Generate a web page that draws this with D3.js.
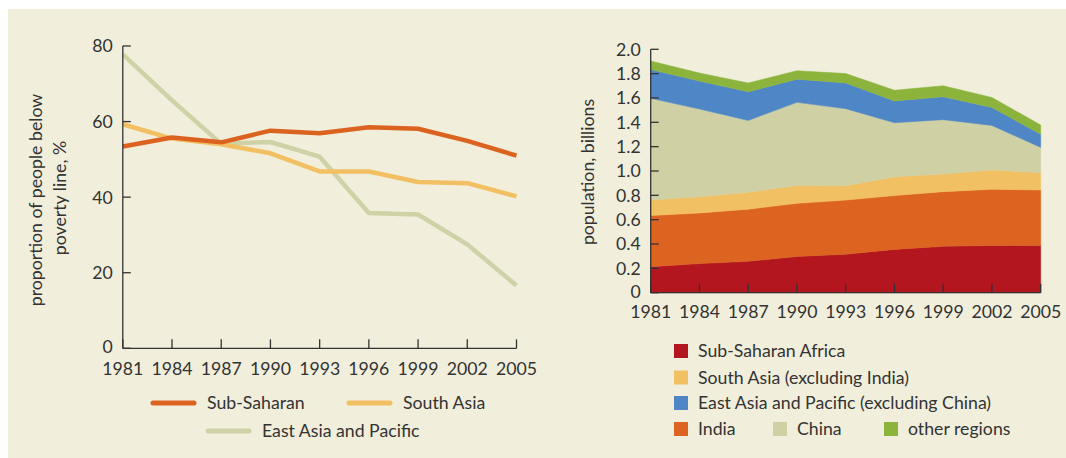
<!DOCTYPE html>
<html><head><meta charset="utf-8">
<script src="https://cdn.jsdelivr.net/npm/d3@7"></script>
<style>
body{margin:0;background:#fff;}
svg text{font-family:"Lato","Open Sans",sans-serif;fill:#333;}
</style></head>
<body>
<svg id="c" width="1066" height="458"></svg>
<script>
const years = [1981,1984,1987,1990,1993,1996,1999,2002,2005];
// left chart: % below poverty line
const subSaharanPct = [53.4,55.8,54.5,57.6,56.9,58.5,58.1,54.9,51.0];
const southAsiaPct  = [59.3,55.5,54.0,51.6,46.8,46.8,44.0,43.7,40.2];
const eastAsiaPct   = [77.8,65.6,54.1,54.6,50.7,35.8,35.4,27.5,16.6];
const leftYTicks = [0,20,40,60,80];
// right chart: population, billions
const ssaPop   = [0.214,0.239,0.258,0.297,0.316,0.356,0.381,0.388,0.387];
const indiaPop = [0.420,0.416,0.428,0.437,0.445,0.442,0.449,0.462,0.457];
const saxPop   = [0.128,0.134,0.139,0.147,0.118,0.155,0.145,0.158,0.142];
const chinaPop = [0.835,0.720,0.590,0.683,0.633,0.443,0.447,0.366,0.208];
const eapxPop  = [0.236,0.230,0.236,0.190,0.212,0.180,0.188,0.148,0.108];
const otherPop = [0.071,0.066,0.072,0.070,0.077,0.088,0.090,0.082,0.076];
const rightYTicks = [0,0.2,0.4,0.6,0.8,1.0,1.2,1.4,1.6,1.8,2.0];

const FS = 17.7;
const svg = d3.select("#c");
svg.append("rect").attr("x",8).attr("y",9).attr("width",1058).attr("height",449).attr("fill","#f1eedc");
const axisColor = "#333";

// ---------- LEFT ----------
const xL = d3.scaleLinear().domain([1981,2005]).range([122.8,516.5]);
const yL = d3.scaleLinear().domain([0,80]).range([348.3,46]);
const gL = svg.append("g");
const lineL = d3.line().x((d,i)=>xL(years[i])).y(d=>yL(d));
const leftSeries = [
  {name:"East Asia and Pacific", vals:eastAsiaPct, color:"#cfd2a6"},
  {name:"South Asia", vals:southAsiaPct, color:"#f2c062"},
  {name:"Sub-Saharan", vals:subSaharanPct, color:"#dc6220"}
];
leftSeries.forEach(s=>{
  gL.append("path").attr("d",lineL(s.vals)).attr("fill","none")
    .attr("stroke",s.color).attr("stroke-width",4.5).attr("stroke-linejoin","round");
});
function drawAxes(g, x, y, yTicks, yFmt, xLabelY){
  const x0 = x.range()[0], x1 = x.range()[1], y0 = y.range()[0], y1 = y.range()[1];
  g.append("line").attr("x1",x0).attr("x2",x0).attr("y1",y1).attr("y2",y0).attr("stroke",axisColor).attr("stroke-width",1.3);
  g.append("line").attr("x1",x0).attr("x2",x1).attr("y1",y0).attr("y2",y0).attr("stroke",axisColor).attr("stroke-width",1.3);
  yTicks.forEach(t=>{
    g.append("line").attr("x1",x0).attr("x2",x0+8).attr("y1",y(t)).attr("y2",y(t)).attr("stroke",axisColor).attr("stroke-width",1.3);
    g.append("text").attr("x",x0-10).attr("y",y(t)).attr("dy", t===0 ? "0.28em" : "0.36em").attr("text-anchor","end")
      .attr("font-size",FS).text(yFmt(t));
  });
  years.forEach(t=>{
    g.append("line").attr("x1",x(t)).attr("x2",x(t)).attr("y1",y0).attr("y2",y0-9).attr("stroke",axisColor).attr("stroke-width",1.3);
    g.append("text").attr("x",x(t)).attr("y",xLabelY).attr("text-anchor","middle")
      .attr("font-size",FS).text(t);
  });
}
drawAxes(gL, xL, yL, leftYTicks, d3.format("d"), 375);
gL.append("text").attr("transform","translate(42,200) rotate(-90)").attr("text-anchor","middle")
  .attr("font-size",FS).text("proportion of people below");
gL.append("text").attr("transform","translate(66,198) rotate(-90)").attr("text-anchor","middle")
  .attr("font-size",FS).text("poverty line, %");

// left legend
const legL = [
  {name:"Sub-Saharan", color:"#dc6220", x:151, y:403},
  {name:"South Asia", color:"#f2c062", x:347, y:403},
  {name:"East Asia and Pacific", color:"#cfd2a6", x:206, y:431}
];
legL.forEach(l=>{
  gL.append("line").attr("x1",l.x+2).attr("x2",l.x+43).attr("y1",l.y).attr("y2",l.y)
    .attr("stroke",l.color).attr("stroke-width",5).attr("stroke-linecap","round");
  gL.append("text").attr("x",l.x+56).attr("y",l.y).attr("dy","0.36em").attr("font-size",FS).text(l.name);
});

// ---------- RIGHT ----------
const xR = d3.scaleLinear().domain([1981,2005]).range([650.7,1040.7]);
const yR = d3.scaleLinear().domain([0,2.0]).range([292.7,49.3]);
const gR = svg.append("g");
const keys = ["ssa","india","sax","china","eapx","other"];
const colors = {ssa:"#b3161f", india:"#dc6420", sax:"#f1c062", china:"#d0d0a5", eapx:"#4f87c6", other:"#8cb43c"};
const table = years.map((y,i)=>({year:y, ssa:ssaPop[i], india:indiaPop[i], sax:saxPop[i], china:chinaPop[i], eapx:eapxPop[i], other:otherPop[i]}));
const stacked = d3.stack().keys(keys)(table);
const area = d3.area().x(d=>xR(d.data.year)).y0(d=>yR(d[0])).y1(d=>yR(d[1]));
stacked.forEach(s=>{
  gR.append("path").attr("d",area(s)).attr("fill",colors[s.key]).attr("stroke",colors[s.key]).attr("stroke-width",0.5);
});
drawAxes(gR, xR, yR, rightYTicks, d=> d===0 ? "0" : d3.format(".1f")(d), 318);
gR.append("text").attr("transform","translate(594,172) rotate(-90)").attr("text-anchor","middle")
  .attr("font-size",FS).text("population, billions");

// right legend
const legR = [
  {key:"ssa", name:"Sub-Saharan Africa", x:674, y:351},
  {key:"sax", name:"South Asia (excluding India)", x:674, y:377.5},
  {key:"eapx", name:"East Asia and Pacific (excluding China)", x:674, y:403},
  {key:"india", name:"India", x:674, y:429},
  {key:"china", name:"China", x:773, y:429},
  {key:"other", name:"other regions", x:884, y:429}
];
legR.forEach(l=>{
  gR.append("rect").attr("x",l.x).attr("y",l.y-7).attr("width",14).attr("height",14).attr("fill",colors[l.key]);
  gR.append("text").attr("x",l.x+24).attr("y",l.y).attr("dy","0.36em").attr("font-size",FS).text(l.name);
});
</script>
</body></html>
